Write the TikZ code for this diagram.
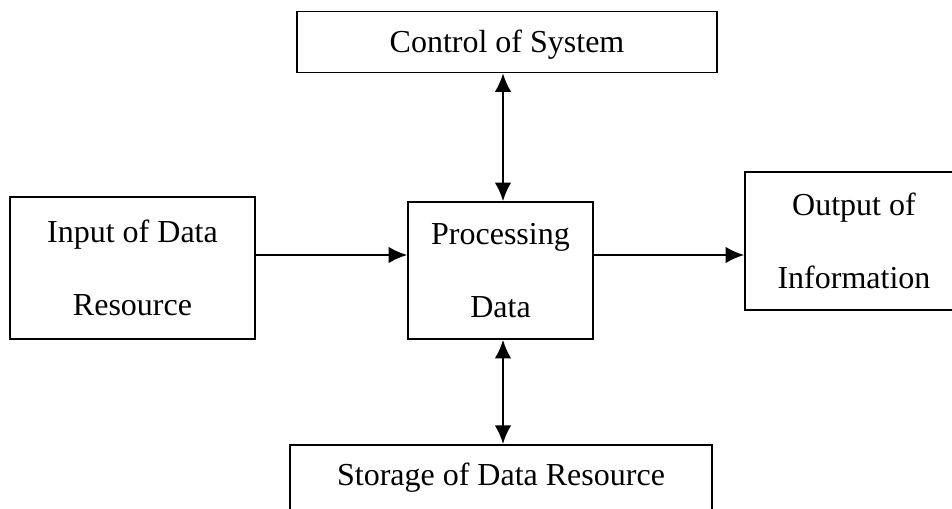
\documentclass[tikz,border=0pt]{standalone}
\usepackage{fontspec}
\setmainfont{Liberation Serif}
\usetikzlibrary{arrows.meta}
\begin{document}
\begin{tikzpicture}[x=0.75pt,y=-0.75pt,
  blk/.style={draw,line width=1.2pt,inner sep=0pt,align=center,
    font=\fontsize{24}{54.75}\selectfont},
  tip/.tip={Latex[length=14pt,width=12.5pt]},
  link/.style={line width=1.6pt,-tip},
  dlink/.style={line width=1.6pt,tip-tip}]
\useasboundingbox (0,0) rectangle (952,509);
\clip (0,0) rectangle (952,509);
\node[blk,minimum width=183.75pt,minimum height=106.5pt] (inp) at (132.5,268) {Input of Data\\Resource};
\node[blk,minimum width=138.75pt,minimum height=102.75pt] (proc) at (500.5,270.5) {Processing\\Data};
\node[blk,minimum width=163.5pt,minimum height=103.5pt] (out) at (854,241) {Output of\\Information};
\node[blk,minimum width=315pt,minimum height=45.75pt,text height=20pt,text depth=3.5pt] (ctrl) at (507,42) {Control of System};
\node[blk,anchor=north,minimum width=316.5pt,text height=30.75pt,text depth=45pt] (stor) at (501,444) {Storage of Data Resource};
\coordinate (ay) at (0,255);
\draw[link] (inp.east |- ay) -- (proc.west |- ay);
\draw[link] (proc.east |- ay) -- (out.west |- ay);
\coordinate (ax) at (503,0);
\draw[dlink] (ctrl.south -| ax) -- (proc.north -| ax);
\draw[dlink] (proc.south -| ax) -- (stor.north -| ax);
\end{tikzpicture}
\end{document}
